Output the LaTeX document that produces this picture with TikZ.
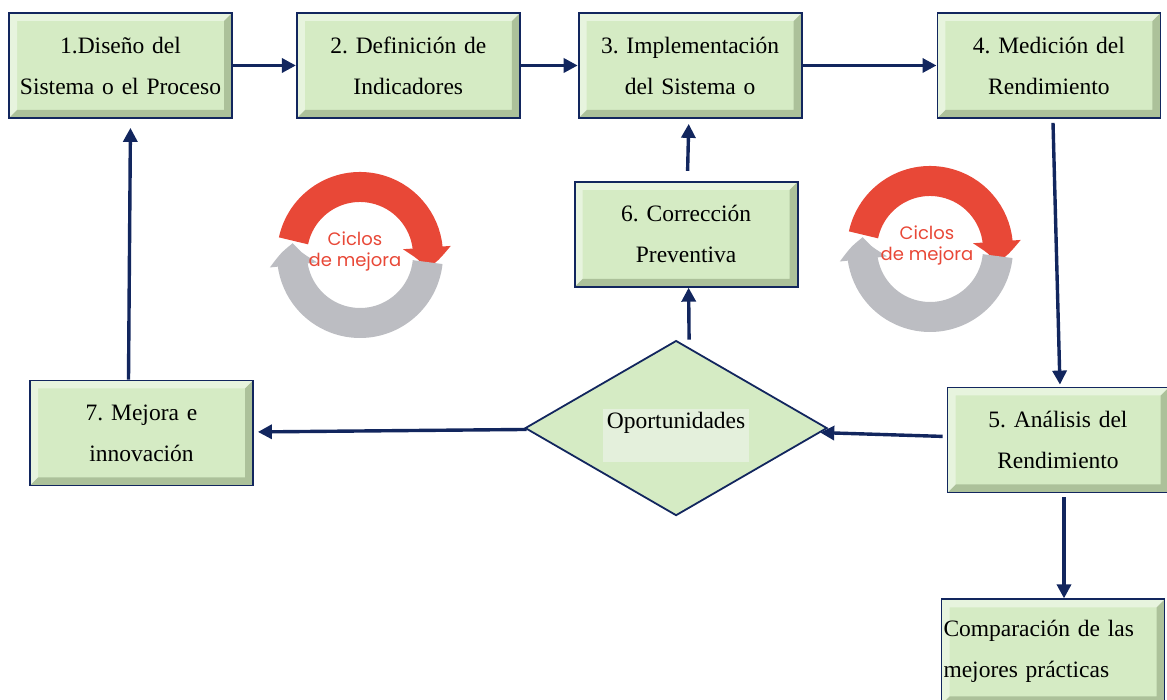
\documentclass[tikz,border=0pt]{standalone}
\usepackage{fontspec}
\setmainfont{Liberation Serif}
\newfontfamily\cicfont{Poppins}
\usetikzlibrary{positioning,shapes.geometric,arrows.meta,bending}
\frenchspacing

\definecolor{boxgreen}{RGB}{213,235,196}
\definecolor{lblgreen}{RGB}{228,240,220}
\definecolor{navy}{RGB}{18,38,94}
\definecolor{bevel}{RGB}{112,132,92}
\definecolor{cycred}{RGB}{232,72,55}
\definecolor{cycgray}{RGB}{188,189,194}

\tikzset{
  blk/.style={draw=navy, line width=1.8pt, fill=boxgreen,
    minimum width=223pt, minimum height=105pt, text width=219pt,
    inner sep=1pt, align=center, font=\fontsize{23.5}{41}\selectfont,
    path picture={
      \fill[bevel, opacity=.4] (path picture bounding box.south west)
        -- (path picture bounding box.south east)
        -- (path picture bounding box.north east)
        -- ([shift={(-8pt,-8pt)}]path picture bounding box.north east)
        -- ([shift={(-8pt,8pt)}]path picture bounding box.south east)
        -- ([shift={(8pt,8pt)}]path picture bounding box.south west) -- cycle;
      \fill[white, opacity=.45] (path picture bounding box.south west)
        -- (path picture bounding box.north west)
        -- (path picture bounding box.north east)
        -- ([shift={(-8pt,-8pt)}]path picture bounding box.north east)
        -- ([shift={(8pt,-8pt)}]path picture bounding box.north west)
        -- ([shift={(8pt,8pt)}]path picture bounding box.south west) -- cycle;
    }},
  dec/.style={diamond, draw=navy, line width=1.8pt, fill=boxgreen,
    minimum width=302pt, minimum height=175pt, inner sep=0pt},
  lbl/.style={fill=lblgreen, minimum width=146pt, text height=17pt,
    text depth=31pt, inner sep=2.5pt, font=\fontsize{23.5}{28}\selectfont},
  cic/.style={text=cycred, align=center, inner sep=0pt,
    font=\cicfont\fontsize{18}{21}\selectfont},
  edg/.style={draw=navy, line width=3.4pt, -{Triangle[length=14pt,width=14pt]}},
}

\begin{document}
\begin{tikzpicture}[x=1pt, y=1pt]
    \useasboundingbox (0,0) rectangle (1167,700);

    % Define nodes
    \node[blk]                                  (dis)   at (120.5,634.5) {1.Diseño del\\Sistema o el Proceso};
    \node[blk, right = 63pt of dis]             (ind)   {2. Definición de\\Indicadores};
    \node[blk, right = 57pt of ind]             (imp)   {3. Implementación\\del Sistema o};
    \node[blk, right = 134pt of imp]            (med)   {4. Medición del\\Rendimiento};
    \node[blk, below = 62pt of imp, xshift=-4pt] (cor)  {6. Corrección\\Preventiva};
    \node[dec, below = 52pt of cor, xshift=-10pt] (opo) {};
    \node[lbl]                                  (opl)   at ([yshift=-7.5pt]opo.center) {Oportunidades};
    \node[blk]                                  (mej)   at (141.5,267) {7. Mejora e\\innovación};
    \node[blk, minimum width=215pt]             (ana)   at (1058,260) {5. Análisis del\\Rendimiento};
    \node[blk, align=left, below = 105pt of ana, xshift=-5pt] (comp) {Comparación de las\\mejores prácticas};

    % Connect nodes
    \draw[edg] (dis) -- (ind);
    \draw[edg] (ind) -- (imp);
    \draw[edg] (imp) -- (med);
    \draw[edg, shorten <=4pt, shorten >=2pt] ([xshift=4pt]med.south) -- ([xshift=2pt]ana.north);
    \draw[edg, shorten <=4pt] (ana) -- (opo);
    \draw[edg, shorten >=4pt] (opo) -- (mej);
    \draw[edg, shorten >=9pt] ([xshift=-13pt]mej.north) -- ([xshift=10pt]dis.south);
    \draw[edg] ([xshift=13pt]opo.north) -- ([xshift=2.5pt]cor.south);
    \draw[edg, shorten <=10pt, shorten >=5pt] (cor) -- (imp);
    \draw[edg, shorten <=4pt] ([xshift=6pt]ana.south) -- ([xshift=11pt]comp.north);

    % improvement cycles
    \foreach \cx/\cy/\dx/\n in {360/445/-5/a, 930/451/-3/b} {
        \draw[cycred, line width=30pt, -{Triangle[bend, length=22pt, width=46pt]}]
            (\cx,\cy) ++(168:68) arc[start angle=168, end angle=-12, radius=68];
        \draw[cycgray, line width=30pt, -{Triangle[bend, length=22pt, width=46pt]}]
            (\cx,\cy) ++(-6:68) arc[start angle=-6, end angle=-190, radius=68];
        \node[cic] (cic\n) at (\cx+\dx,\cy+3) {Ciclos\\de mejora};
    }
\end{tikzpicture}
\end{document}
